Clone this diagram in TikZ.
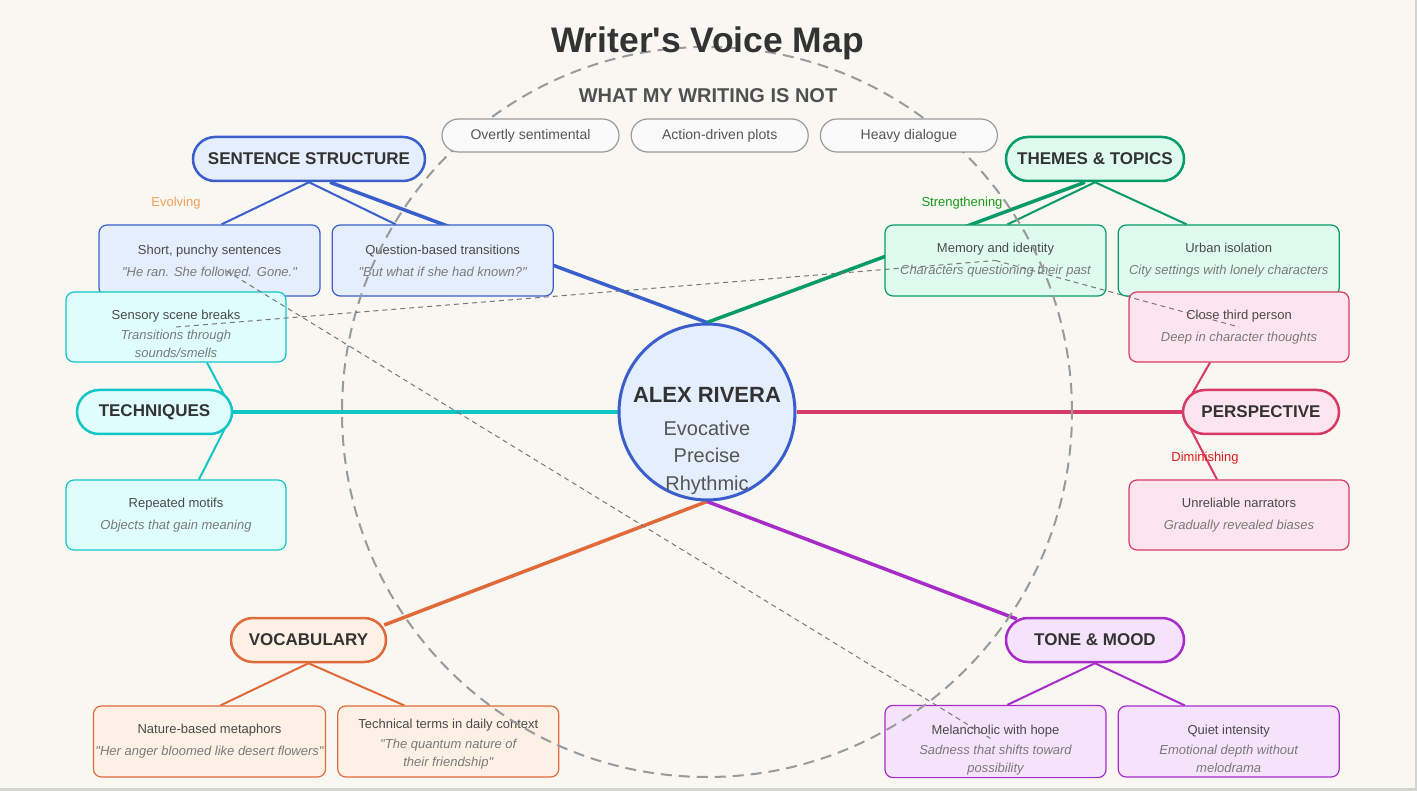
\documentclass[tikz,border=0pt]{standalone}
\usepackage{fontspec}
\setmainfont{Liberation Sans}[Ligatures=TeXOff]
\usetikzlibrary{positioning}

\definecolor{paper}{HTML}{F8F7F2}
\definecolor{edgegray}{HTML}{D4D4D0}
\definecolor{ink}{HTML}{333333}
\definecolor{leafink}{HTML}{4A4A4A}
\definecolor{subink}{HTML}{7A7A7A}
\definecolor{heading}{HTML}{505050}
\definecolor{pillgray}{HTML}{9A9A9A}
\definecolor{pillfill}{HTML}{FAFAFA}
\definecolor{pillink}{HTML}{555555}
\definecolor{ringgray}{HTML}{9A9A9A}
\definecolor{linkgray}{HTML}{777777}
\definecolor{ssblue}{HTML}{3A5FCD}
\definecolor{ssfill}{HTML}{E5EEFC}
\definecolor{ttgreen}{HTML}{079B69}
\definecolor{ttfill}{HTML}{DFFBEF}
\definecolor{tqcyan}{HTML}{12C6C8}
\definecolor{tqfill}{HTML}{DFFDFD}
\definecolor{pspink}{HTML}{D83A66}
\definecolor{psfill}{HTML}{FDE5EF}
\definecolor{vcorange}{HTML}{E06A3A}
\definecolor{vcfill}{HTML}{FDF1E6}
\definecolor{tmpurple}{HTML}{A82DC8}
\definecolor{tmfill}{HTML}{F5E3FC}
\definecolor{evolvecol}{HTML}{F5A05A}
\definecolor{strengthcol}{HTML}{17991A}
\definecolor{diminishcol}{HTML}{E01B1B}

\pgfdeclarelayer{paperlayer}
\pgfdeclarelayer{wires}
\pgfsetlayers{paperlayer,wires,main}

\tikzset{
  cat/.style = {rectangle, draw, rounded corners=22pt, minimum height=44pt, line width=2.5pt, text=ink, font=\fontsize{17}{20}\selectfont\bfseries, inner xsep=2pt},
  leaf/.style = {rectangle, draw, rounded corners=8pt, minimum width=221pt, minimum height=71pt, line width=1.2pt, align=center, text=leafink, font=\fontsize{13}{18}\selectfont, inner sep=2pt},
  notpill/.style = {rectangle, draw=pillgray, fill=pillfill, rounded corners=16.5pt, minimum width=177pt, minimum height=33pt, line width=1.2pt, text=pillink, font=\fontsize{14}{16}\selectfont},
  core/.style = {circle, draw=ssblue, fill=ssfill, line width=3pt, minimum size=176pt, inner sep=0pt},
  spoke/.style = {line width=3.5pt},
  twig/.style = {line width=2pt},
  xlink/.style = {draw=linkgray, line width=1pt, dash pattern=on 5pt off 4pt},
  ring/.style = {draw=ringgray, line width=2pt, dash pattern=on 11pt off 7pt},
  trend/.style = {font=\fontsize{13}{15}\selectfont}
}
\newcommand{\leafsub}[1]{{\itshape\color{subink}#1}}
\newcommand{\lift}[1]{\rule{0pt}{#1}}

\begin{document}
\begin{tikzpicture}[x=1pt,y=-1pt]

    \useasboundingbox (0,0) rectangle (1417,791);
    \begin{pgfonlayer}{paperlayer}
      \fill[paper] (0,0) rectangle (1417,791);
      \fill[edgegray] (0,788) rectangle (1417,791);
      \fill[edgegray] (1414.5,0) rectangle (1417,791);
    \end{pgfonlayer}

    % Leaves
    \node[leaf, draw=ssblue, fill=ssfill] (short) at (209.5,260.5) {Short, punchy sentences\\[4pt]\leafsub{"He ran. She followed. Gone."}};
    \node[leaf, draw=ssblue, fill=ssfill, right=11pt of short] (quest) {Question-based transitions\\[4pt]\leafsub{"But what if she had known?"}};
    \node[leaf, draw=ttgreen, fill=ttfill] (memory) at (995.5,260.5) {Memory and identity\\[4pt]\leafsub{Characters questioning their past}};
    \node[leaf, draw=ttgreen, fill=ttfill, right=11pt of memory] (urban) {Urban isolation\\[4pt]\leafsub{City settings with lonely characters}};
    \node[leaf, draw=tqcyan, fill=tqfill, minimum width=220pt, minimum height=70pt] (sensory) at (176,327) {\lift{23.5pt}Sensory scene breaks\\[2pt]\leafsub{Transitions through}\\\leafsub{sounds/smells}};
    \node[leaf, draw=tqcyan, fill=tqfill, minimum width=220pt, minimum height=70pt] (motifs) at (176,515) {Repeated motifs\\[4pt]\leafsub{Objects that gain meaning}};
    \node[leaf, draw=pspink, fill=psfill, minimum width=220pt, minimum height=70pt] (close) at (1239,327) {Close third person\\[4pt]\leafsub{Deep in character thoughts}};
    \node[leaf, draw=pspink, fill=psfill, minimum width=220pt, minimum height=70pt] (unrel) at (1239,515) {Unreliable narrators\\[4pt]\leafsub{Gradually revealed biases}};
    \node[leaf, draw=vcorange, fill=vcfill] (nature) at (209.5,741.5) {Nature-based metaphors\\[4pt]\leafsub{"Her anger bloomed like desert flowers"}};
    \node[leaf, draw=vcorange, fill=vcfill, right=11pt of nature] (techterms) {\lift{15.5pt}Technical terms in daily context\\[2pt]\leafsub{"The quantum nature of}\\\leafsub{their friendship"}};
    \node[leaf, draw=tmpurple, fill=tmfill] (melan) at (995.5,741.5) {\lift{27.5pt}Melancholic with hope\\[2pt]\leafsub{Sadness that shifts toward}\\\leafsub{possibility}};
    \node[leaf, draw=tmpurple, fill=tmfill, right=11pt of melan] (quiet) {\lift{23.5pt}Quiet intensity\\[2pt]\leafsub{Emotional depth without}\\\leafsub{melodrama}};

    % Outer ring
    \draw[ring] (707,412) circle[radius=365pt];

    % Cross links
    \draw[xlink, shorten <=20pt, shorten >=6pt] (short.center) -- (melan.center);
    \draw[xlink] (sensory.center) -- (memory.center);
    \draw[xlink] (memory.center) -- (close.center);

    % What my writing is not
    \node[font=\fontsize{20}{24}\selectfont\bfseries, text=heading] (nothead) at (708,96) {WHAT MY WRITING IS NOT};
    \node[notpill] (notA) at (530.5,135.5) {Overtly sentimental};
    \node[notpill, right=11pt of notA] (notB) {Action-driven plots};
    \node[notpill, right=11pt of notB] (notC) {Heavy dialogue};

    % Categories
    \node[cat, draw=ssblue, fill=ssfill, minimum width=232pt] (ss) at (309,159) {SENTENCE STRUCTURE};
    \node[cat, draw=ttgreen, fill=ttfill, minimum width=178pt] (tt) at (1095,159) {THEMES \& TOPICS};
    \node[cat, draw=tqcyan, fill=tqfill, minimum width=155pt] (tech) at (154.5,412) {TECHNIQUES};
    \node[cat, draw=pspink, fill=psfill, minimum width=156pt] (pers) at (1261,412) {PERSPECTIVE};
    \node[cat, draw=vcorange, fill=vcfill, minimum width=155pt] (vocab) at (308.5,640) {VOCABULARY};
    \node[cat, draw=tmpurple, fill=tmfill, minimum width=178pt] (tone) at (1095,640) {TONE \& MOOD};

    % Centre
    \node[core] (core) at (707,412) {};
    \node[align=center, text=pillink, font=\fontsize{20}{27.5}\selectfont] (corelabel) at (707,441)
      {{\fontsize{22}{26}\selectfont\bfseries\color{ink}ALEX RIVERA}\\[5pt]Evocative\\Precise\\Rhythmic};

    % Trend labels
    \node[trend, text=evolvecol] (evolving) at (176,203) {Evolving};
    \node[trend, text=strengthcol] (strengthening) at (962,203) {Strengthening};
    \node[trend, text=diminishcol] (diminishing) at (1205,458) {Diminishing};

    % Title
    \node[font=\fontsize{35.5}{42}\selectfont\bfseries, text=ink] (title) at (707.5,43) {Writer's Voice Map};

    % Wires
    \begin{pgfonlayer}{wires}
      \draw[spoke, ssblue] (core.north) -- ([xshift=21pt]ss.south);
      \draw[spoke, ttgreen] (core.north) -- ([xshift=-10pt]tt.south);
      \draw[spoke, tqcyan] (core.west) -- (tech.east);
      \draw[spoke, pspink] (core.east) -- (pers.west);
      \draw[spoke, vcorange] (core.south) -- ([xshift=-3pt,yshift=15pt]vocab.east);
      \draw[spoke, tmpurple] (core.south) -- ([xshift=12pt,yshift=21pt]tone.west);

      \draw[twig, ssblue] (ss.south) -- ([xshift=12pt]short.north);
      \draw[twig, ssblue] (ss.south) -- ([xshift=-47pt]quest.north);
      \draw[twig, ttgreen] (tt.south) -- ([xshift=12pt]memory.north);
      \draw[twig, ttgreen] (tt.south) -- ([xshift=-42pt]urban.north);
      \draw[twig, tqcyan] (tech.east) -- ([xshift=31pt]sensory.south);
      \draw[twig, tqcyan] (tech.east) -- ([xshift=23pt]motifs.north);
      \draw[twig, pspink] (pers.west) -- ([xshift=-29pt]close.south);
      \draw[twig, pspink] (pers.west) -- ([xshift=-22pt]unrel.north);
      \draw[twig, vcorange] (vocab.south) -- ([xshift=11pt]nature.north);
      \draw[twig, vcorange] (vocab.south) -- ([xshift=-44pt]techterms.north);
      \draw[twig, tmpurple] (tone.south) -- ([xshift=12pt]melan.north);
      \draw[twig, tmpurple] (tone.south) -- ([xshift=-44pt]quiet.north);
    \end{pgfonlayer}

\end{tikzpicture}
\end{document}
